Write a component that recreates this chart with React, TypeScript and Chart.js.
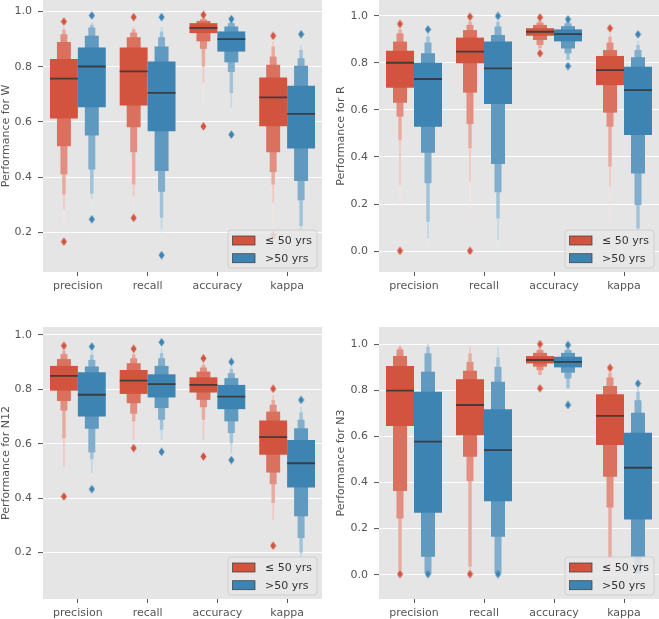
import React, { useEffect, useRef } from 'react';
import { Chart, registerables } from 'chart.js';

Chart.register(...registerables);

// ---------- data ----------
const CATEGORIES = ['precision', 'recall', 'accuracy', 'kappa'];
const GROUP_LABELS = ['≤ 50 yrs', '>50 yrs'];

const Y_TICKS_W = [0.2, 0.4, 0.6, 0.8, 1.0];
const Y_TICKS_R = [0.0, 0.2, 0.4, 0.6, 0.8, 1.0];
const Y_TICKS_N12 = [0.2, 0.4, 0.6, 0.8, 1.0];
const Y_TICKS_N3 = [0.0, 0.2, 0.4, 0.6, 0.8, 1.0];

// letter-value boxes per category, innermost first: [low, high]
// ---- W ----
const W_YOUNG_MED = [0.757, 0.783, 0.941, 0.689];
const W_YOUNG_LV = [
  [[0.612, 0.828], [0.512, 0.89], [0.41, 0.918], [0.337, 0.934], [0.283, 0.946], [0.225, 0.955]],
  [[0.66, 0.87], [0.581, 0.907], [0.49, 0.924], [0.373, 0.936], [0.33, 0.946], [0.295, 0.958]],
  [[0.922, 0.958], [0.892, 0.966], [0.865, 0.972], [0.801, 0.976], [0.74, 0.981], [0.66, 0.984]],
  [[0.584, 0.761], [0.49, 0.807], [0.418, 0.837], [0.373, 0.873], [0.307, 0.892], [0.199, 0.902]],
];
const W_YOUNG_OUT = [[0.964, 0.166], [0.98, 0.252], [0.988, 0.584], [0.912, 0.19]];

const W_OLD_MED = [0.801, 0.705, 0.9, 0.629];
const W_OLD_LV = [
  [[0.653, 0.87], [0.551, 0.912], [0.428, 0.942], [0.34, 0.952], [0.32, 0.962], [0.28, 0.972]],
  [[0.566, 0.819], [0.422, 0.873], [0.347, 0.907], [0.253, 0.928], [0.21, 0.946], [0.175, 0.96]],
  [[0.855, 0.928], [0.816, 0.946], [0.781, 0.958], [0.705, 0.963], [0.65, 0.966], [0.626, 0.969]],
  [[0.504, 0.731], [0.386, 0.804], [0.316, 0.831], [0.223, 0.861], [0.2, 0.88], [0.17, 0.895]],
];
const W_OLD_OUT = [[0.986, 0.247], [0.98, 0.117], [0.973, 0.554], [0.918]];

// ---- R ----
const R_YOUNG_MED = [0.801, 0.848, 0.933, 0.77];
const R_YOUNG_LV = [
  [[0.695, 0.852], [0.631, 0.891], [0.572, 0.926], [0.472, 0.943], [0.281, 0.955], [0.174, 0.96], [0.075, 0.962]],
  [[0.799, 0.908], [0.674, 0.94], [0.54, 0.962], [0.437, 0.976], [0.295, 0.985], [0.174, 0.99], [0.075, 0.993]],
  [[0.916, 0.948], [0.898, 0.962], [0.877, 0.972], [0.862, 0.98]],
  [[0.706, 0.83], [0.589, 0.855], [0.529, 0.887], [0.359, 0.912], [0.274, 0.925], [0.125, 0.935]],
];
const R_YOUNG_OUT = [[0.966, 0.001], [0.997, 0.001], [0.994, 0.841], [0.948]];

const R_OLD_MED = [0.732, 0.777, 0.923, 0.685];
const R_OLD_LV = [
  [[0.529, 0.801], [0.418, 0.841], [0.288, 0.887], [0.125, 0.912], [0.054, 0.926], [0.007, 0.935]],
  [[0.626, 0.891], [0.37, 0.919], [0.25, 0.955], [0.139, 0.976], [0.047, 0.985], [0.007, 0.992]],
  [[0.892, 0.943], [0.862, 0.957], [0.841, 0.969], [0.813, 0.979]],
  [[0.494, 0.784], [0.33, 0.824], [0.196, 0.855], [0.096, 0.877], [0.054, 0.895], [0.02, 0.905]],
];
const R_OLD_OUT = [[0.943], [1.0], [0.986, 0.787], [0.922]];

// ---- N12 ----
const N12_YOUNG_MED = [0.849, 0.832, 0.816, 0.624];
const N12_YOUNG_LV = [
  [[0.795, 0.886], [0.757, 0.911], [0.722, 0.929], [0.62, 0.942], [0.516, 0.95]],
  [[0.783, 0.871], [0.749, 0.896], [0.71, 0.914], [0.682, 0.929], [0.614, 0.938]],
  [[0.788, 0.844], [0.761, 0.865], [0.734, 0.88], [0.688, 0.89], [0.614, 0.9]],
  [[0.559, 0.685], [0.494, 0.718], [0.451, 0.743], [0.382, 0.761], [0.32, 0.78]],
];
const N12_YOUNG_OUT = [[0.96, 0.406], [0.949, 0.584], [0.914, 0.553], [0.802, 0.225]];

const N12_OLD_MED = [0.78, 0.819, 0.773, 0.528];
const N12_OLD_LV = [
  [[0.7, 0.863], [0.655, 0.884], [0.568, 0.908], [0.543, 0.927], [0.492, 0.94]],
  [[0.77, 0.855], [0.731, 0.886], [0.688, 0.914], [0.651, 0.933], [0.614, 0.95]],
  [[0.727, 0.816], [0.682, 0.841], [0.639, 0.859], [0.602, 0.874], [0.565, 0.885]],
  [[0.439, 0.614], [0.333, 0.657], [0.253, 0.688], [0.2, 0.715], [0.17, 0.735]],
];
const N12_OLD_OUT = [[0.957, 0.433], [0.973, 0.57], [0.901, 0.54], [0.761]];

// ---- N3 ----
const N3_YOUNG_MED = [0.798, 0.736, 0.931, 0.689];
const N3_YOUNG_LV = [
  [[0.645, 0.905], [0.363, 0.948], [0.244, 0.977], [0.02, 0.988], [0.001, 0.996]],
  [[0.605, 0.847], [0.512, 0.884], [0.406, 0.923], [0.035, 0.96], [0.001, 0.991]],
  [[0.916, 0.948], [0.902, 0.962], [0.887, 0.974], [0.866, 0.981]],
  [[0.562, 0.783], [0.425, 0.818], [0.292, 0.855], [0.071, 0.876], [0.02, 0.885]],
];
const N3_YOUNG_OUT = [[0.003], [0.003], [1.0, 0.808], [0.897]];

const N3_OLD_MED = [0.577, 0.54, 0.923, 0.464];
const N3_OLD_LV = [
  [[0.269, 0.793], [0.078, 0.88], [0.006, 0.96], [0.001, 0.988], [0.0, 1.0]],
  [[0.319, 0.718], [0.165, 0.837], [0.006, 0.902], [0.001, 0.942], [0.0, 0.988]],
  [[0.899, 0.945], [0.876, 0.962], [0.851, 0.974], [0.808, 0.981]],
  [[0.24, 0.616], [0.078, 0.702], [0.006, 0.757], [0.0, 0.793], [0.0, 0.81]],
];
const N3_OLD_OUT = [[0.003], [0.003], [0.996, 0.736], [0.829]];

// ---------- styling ----------
const RED = [211, 84, 62];
const BLUE = [62, 132, 178];
const FONT = '"DejaVu Sans", sans-serif';

function mix(rgb: number[], t: number, a = 1) {
  const c = rgb.map((v) => Math.round(v + (255 - v) * t));
  return `rgba(${c[0]},${c[1]},${c[2]},${a})`;
}

function makeDiamond(rgb: number[]) {
  const c = document.createElement('canvas');
  c.width = 7;
  c.height = 9;
  const ctx = c.getContext('2d')!;
  ctx.fillStyle = mix(rgb, 0);
  ctx.beginPath();
  ctx.moveTo(3.5, 0.3);
  ctx.lineTo(6.5, 4.5);
  ctx.lineTo(3.5, 8.7);
  ctx.lineTo(0.5, 4.5);
  ctx.closePath();
  ctx.fill();
  return c;
}

type PanelSpec = {
  name: string;
  left: number; top: number; w: number; h: number;
  padTop: number; padRight: number; yW: number; xH: number; titlePad: number;
  yMin: number; yMax: number; ticks: number[];
  young: { med: number[]; lv: number[][][]; out: number[][] };
  old: { med: number[]; lv: number[][][]; out: number[][] };
};

const PANELS: PanelSpec[] = [
  {
    name: 'W', left: 0, top: 0, w: 329, h: 309, padTop: 0, padRight: 7, yW: 43, xH: 37, titlePad: 0,
    yMin: 0.056, yMax: 1.042, ticks: Y_TICKS_W,
    young: { med: W_YOUNG_MED, lv: W_YOUNG_LV, out: W_YOUNG_OUT },
    old: { med: W_OLD_MED, lv: W_OLD_LV, out: W_OLD_OUT },
  },
  {
    name: 'R', left: 329, top: 0, w: 330, h: 309, padTop: 0, padRight: 0, yW: 50, xH: 37, titlePad: 5.4,
    yMin: -0.089, yMax: 1.068, ticks: Y_TICKS_R,
    young: { med: R_YOUNG_MED, lv: R_YOUNG_LV, out: R_YOUNG_OUT },
    old: { med: R_OLD_MED, lv: R_OLD_LV, out: R_OLD_OUT },
  },
  {
    name: 'N12', left: 0, top: 309, w: 329, h: 310, padTop: 18, padRight: 7, yW: 43, xH: 20, titlePad: 0,
    yMin: 0.029, yMax: 1.029, ticks: Y_TICKS_N12,
    young: { med: N12_YOUNG_MED, lv: N12_YOUNG_LV, out: N12_YOUNG_OUT },
    old: { med: N12_OLD_MED, lv: N12_OLD_LV, out: N12_OLD_OUT },
  },
  {
    name: 'N3', left: 329, top: 309, w: 330, h: 310, padTop: 18, padRight: 0, yW: 50, xH: 20, titlePad: 5.4,
    yMin: -0.105, yMax: 1.074, ticks: Y_TICKS_N3,
    young: { med: N3_YOUNG_MED, lv: N3_YOUNG_LV, out: N3_YOUNG_OUT },
    old: { med: N3_OLD_MED, lv: N3_OLD_LV, out: N3_OLD_OUT },
  },
];

const bgPlugin = {
  id: 'axesBg',
  beforeDraw(chart: any) {
    const { ctx, chartArea: a } = chart;
    ctx.save();
    ctx.fillStyle = '#E5E5E5';
    ctx.fillRect(a.left, a.top, a.right - a.left, a.bottom - a.top);
    ctx.restore();
  },
};

const legendPlugin = {
  id: 'boxLegend',
  afterDraw(chart: any) {
    const { ctx, chartArea: a } = chart;
    const w = 89, h = 38;
    const x = a.right - 5 - w;
    const y = a.bottom - 4 - h;
    ctx.save();
    ctx.beginPath();
    const r = 3;
    ctx.moveTo(x + r, y);
    ctx.lineTo(x + w - r, y);
    ctx.arcTo(x + w, y, x + w, y + r, r);
    ctx.lineTo(x + w, y + h - r);
    ctx.arcTo(x + w, y + h, x + w - r, y + h, r);
    ctx.lineTo(x + r, y + h);
    ctx.arcTo(x, y + h, x, y + h - r, r);
    ctx.lineTo(x, y + r);
    ctx.arcTo(x, y, x + r, y, r);
    ctx.closePath();
    ctx.fillStyle = 'rgba(232,232,232,0.85)';
    ctx.fill();
    ctx.strokeStyle = 'rgba(204,204,204,0.9)';
    ctx.lineWidth = 1;
    ctx.stroke();
    [RED, BLUE].forEach((rgb, i) => {
      const cy = y + 10.5 + i * 17.7;
      ctx.fillStyle = mix(rgb, 0);
      ctx.fillRect(x + 4.5, cy - 4.5, 22.5, 9);
      ctx.strokeStyle = 'rgba(60,60,60,0.9)';
      ctx.lineWidth = 0.8;
      ctx.strokeRect(x + 4.5, cy - 4.5, 22.5, 9);
      ctx.fillStyle = '#333333';
      ctx.font = `11px ${FONT}`;
      ctx.textBaseline = 'middle';
      ctx.textAlign = 'left';
      ctx.fillText(GROUP_LABELS[i], x + 37, cy + 0.5);
    });
    ctx.restore();
  },
};

function buildConfig(p: PanelSpec): any {
  const datasets: any[] = [];
  const groups = [
    { ...p.young, rgb: RED, off: -0.2, stack: 'young' },
    { ...p.old, rgb: BLUE, off: 0.2, stack: 'old' },
  ];
  groups.forEach((g) => {
    const maxLevels = Math.max(...g.lv.map((b) => b.length));
    for (let k = 0; k < maxLevels; k++) {
      datasets.push({
        type: 'bar',
        label: `${g.stack}-${k}`,
        stack: g.stack,
        order: 1,
        xAxisID: 'xl',
        yAxisID: 'y',
        data: g.lv.map((b, i) => ({ x: i, y: b[k] ? [b[k][0], b[k][1]] : null })),
        backgroundColor: mix(g.rgb, Math.min(0.85, 0.17 * k)),
        borderWidth: 0,
        barPercentage: Math.pow(0.5, k),
        categoryPercentage: 0.8,
      });
    }
  });
  groups.forEach((g) => {
    datasets.push({
      type: 'line',
      label: `${g.stack}-median`,
      order: 0,
      xAxisID: 'xl',
      yAxisID: 'y',
      data: g.med.flatMap((m, i) => [
        { x: i + g.off - 0.2, y: m },
        { x: i + g.off + 0.2, y: m },
        { x: i + g.off + 0.2, y: null },
      ]),
      borderColor: 'rgba(55,55,55,0.9)',
      borderWidth: 1.8,
      pointRadius: 0,
      spanGaps: false,
      fill: false,
    });
    datasets.push({
      type: 'scatter',
      label: `${g.stack}-outliers`,
      order: 0,
      xAxisID: 'xl',
      yAxisID: 'y',
      data: g.out.flatMap((arr, i) => arr.map((v) => ({ x: i + g.off, y: v }))),
      pointStyle: makeDiamond(g.rgb),
      pointRadius: 4,
    });
  });

  return {
    type: 'bar',
    data: { labels: CATEGORIES, datasets },
    plugins: [bgPlugin, legendPlugin],
    options: {
      animation: false,
      responsive: false,
      devicePixelRatio: 1,
      layout: { autoPadding: false, padding: { top: p.padTop, right: p.padRight, left: 0, bottom: 0 } },
      plugins: { legend: { display: false }, tooltip: { enabled: false } },
      scales: {
        x: {
          type: 'category',
          offset: true,
          grid: { display: true, drawOnChartArea: false, offset: false, tickLength: 4, tickColor: '#555555', tickWidth: 1 },
          border: { display: false },
          ticks: { color: '#555555', font: { family: FONT, size: 11 }, padding: 4, maxRotation: 0, autoSkip: false },
          afterFit: (s: any) => {
            s.height = p.xH;
            s.paddingLeft = 0;
            s.paddingRight = 0;
          },
        },
        xl: {
          type: 'linear',
          display: false,
          stacked: true,
          offset: false,
          grid: { offset: false },
          min: -0.5,
          max: 3.5,
          position: 'bottom',
          afterBuildTicks: (s: any) => { s.ticks = CATEGORIES.map((_, i) => ({ value: i })); },
        },
        y: {
          type: 'linear',
          stacked: false,
          beginAtZero: false,
          min: p.yMin,
          max: p.yMax,
          grid: { color: '#FFFFFF', lineWidth: 1.1, tickLength: 5, tickColor: '#555555', tickWidth: 1 },
          border: { display: false },
          ticks: {
            color: '#555555',
            font: { family: FONT, size: 11 },
            padding: 6,
            callback: (v: any) => Number(v).toFixed(1),
          },
          afterBuildTicks: (s: any) => { s.ticks = p.ticks.map((v) => ({ value: v })); },
          afterFit: (s: any) => {
            s.width = p.yW;
            s.paddingTop = 0;
            s.paddingBottom = 0;
          },
          title: {
            display: true,
            text: `Performance for ${p.name}`,
            color: '#555555',
            font: { family: FONT, size: 11 },
            padding: { top: p.titlePad, bottom: 0 },
          },
        },
      },
    },
  };
}

function PanelChart({ spec }: { spec: PanelSpec }) {
  const ref = useRef<HTMLCanvasElement>(null);
  useEffect(() => {
    if (!ref.current) return;
    const chart = new Chart(ref.current, buildConfig(spec));
    return () => chart.destroy();
  }, [spec]);
  return (
    <div style={{ position: 'absolute', left: spec.left, top: spec.top, width: spec.w, height: spec.h }}>
      <canvas ref={ref} width={spec.w} height={spec.h} style={{ width: spec.w, height: spec.h, display: 'block' }} />
    </div>
  );
}

export default function App() {
  return (
    <div style={{ position: 'fixed', left: 0, top: 0, width: 659, height: 619, background: '#ffffff', overflow: 'hidden' }}>
      {PANELS.map((p) => (
        <PanelChart key={p.name} spec={p} />
      ))}
    </div>
  );
}
